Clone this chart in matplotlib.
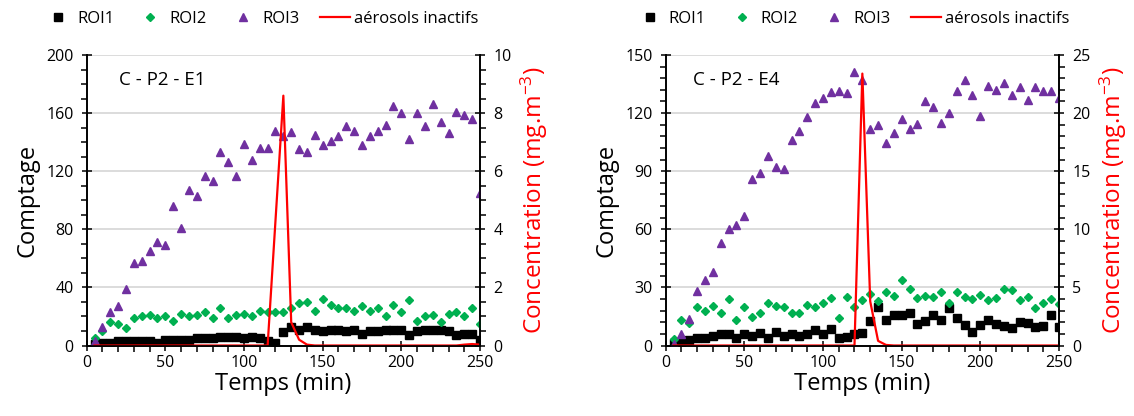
import matplotlib
matplotlib.use("Agg")
import matplotlib.pyplot as plt
from matplotlib.ticker import MultipleLocator

plt.rcParams['font.family'] = ['Open Sans', 'DejaVu Sans']
plt.rcParams['mathtext.default'] = 'regular'

# Time axis (min), one sample every 5 min
temps = list(range(5, 251, 5))

# Panel 1 : C - P2 - E1
roi1_e1 = [1, 2, 2, 3, 3, 3, 3, 3, 2, 4, 4, 4, 4, 5, 5, 5, 6, 6, 6, 5, 6, 5, 3,
           2, 9, 13, 11, 13, 11, 10, 11, 11, 10, 11, 8, 10, 10, 11, 11, 11, 7, 10,
           11, 11, 11, 10, 7, 8, 8, 4]
roi2_e1 = [5, 10, 16, 15, 12, 19, 20, 21, 19, 20, 17, 22, 20, 21, 23, 19, 26, 19,
           21, 22, 20, 24, 23, 23, 23, 26, 29, 30, 24, 32, 28, 26, 26, 24, 27, 24,
           26, 20, 28, 23, 31, 17, 20, 21, 16, 22, 23, 20, 26, 15]
roi3_e1 = [3, 13, 23, 27, 39, 57, 58, 65, 71, 69, 96, 81, 107, 103, 117, 113, 133,
           126, 117, 139, 128, 136, 136, 148, 144, 147, 135, 133, 145, 138, 141, 144,
           151, 148, 138, 144, 148, 152, 165, 160, 142, 160, 151, 166, 154, 146, 161,
           159, 156, 105]
conc_e1 = [0] * 22 + [0, 4.3, 8.6, 0.8, 0.2, 0.03] + [0] * 19 + [0.03, 0.05, 0.03]

# Panel 2 : C - P2 - E4
roi1_e4 = [1.3, 2, 3, 4, 4, 5, 6, 6, 4, 6, 5, 6.5, 4, 7, 5, 6, 5, 6, 8, 6, 8.6, 4,
           4.6, 5.8, 6.3, 12.6, 20, 13, 15.6, 15.7, 17, 11, 12.6, 15.7, 13, 19.5, 14,
           10.6, 6.8, 10.6, 13, 11, 10, 9, 12, 11.5, 9.7, 10, 15.7, 9.4]
roi2_e4 = [3.4, 13, 11.5, 19.7, 18, 20.6, 17, 24.2, 13, 20, 14.6, 17, 21.8, 20.6,
           19.7, 17, 16.6, 21, 20, 21.8, 24.4, 14, 25.2, 19.7, 23.5, 26.4, 23, 27.8,
           25.7, 33.8, 29, 24.4, 25.7, 25.2, 27.5, 21.8, 27.5, 25, 24, 26, 23.5, 24.4,
           29.3, 28.7, 23.5, 25, 19.2, 21.8, 24, 21.4]
roi3_e4 = [1, 6, 13.5, 28, 34, 38, 53, 60, 62, 67, 86, 89, 98, 92, 91, 106, 111,
           118, 125, 128, 131, 131.6, 130.5, 141, 137, 111.6, 114, 104.7, 109.6, 117,
           112, 114.4, 126.4, 123.3, 114.7, 120, 131.6, 137, 129.3, 118.5, 134, 132,
           135.4, 129.3, 133.6, 126.8, 133.3, 131.4, 131.6, 127.6]
conc_e4 = [0] * 23 + [0, 23.4, 3.8, 0.4, 0.05] + [0] * 22

panels = [
    ("C - P2 - E1", roi1_e1, roi2_e1, roi3_e1, conc_e1, 200, 40, 10, 10, 2, 0.5, 0.083, 0.443),
    ("C - P2 - E4", roi1_e4, roi2_e4, roi3_e4, conc_e4, 150, 30, 6, 25, 5, 1, 0.069, 0.474),
]
x_lefts = [86.7 / 1134, 665.7 / 1134]

fig = plt.figure(figsize=(11.34, 4.16), dpi=100)

for (name, r1, r2, r3, conc, ymax, ymaj, ymin_, cmax, cmaj, cmin, tx, lx), xl in zip(panels, x_lefts):
    ax = fig.add_axes([xl, 70.5 / 416, 393.3 / 1134, 290.5 / 416])
    ax2 = ax.twinx()

    ax.grid(axis='y', color='#d9d9d9', linewidth=1.3, zorder=0)
    ax.set_axisbelow(True)
    h1, = ax.plot(temps, r1, 's', color='black', markersize=6.3, label='ROI1', zorder=3)
    h2, = ax.plot(temps, r2, 'D', color='#00b050', markersize=4, label='ROI2', zorder=3)
    h3, = ax.plot(temps, r3, '^', color='#7030a0', markersize=5.6, label='ROI3', zorder=3)
    h4, = ax2.plot(temps, conc, '-', color='red', linewidth=1.6, label='aérosols inactifs')

    ax.set_xlim(0, 250)
    ax.set_ylim(0, ymax)
    ax2.set_ylim(0, cmax)
    ax.xaxis.set_major_locator(MultipleLocator(50))
    ax.xaxis.set_minor_locator(MultipleLocator(10))
    ax.yaxis.set_major_locator(MultipleLocator(ymaj))
    ax.yaxis.set_minor_locator(MultipleLocator(ymin_))
    ax2.yaxis.set_major_locator(MultipleLocator(cmaj))
    ax2.yaxis.set_minor_locator(MultipleLocator(cmin))

    for a in (ax, ax2):
        a.spines['top'].set_visible(False)
        for s in a.spines.values():
            s.set_linewidth(1.2)
        a.tick_params(which='major', direction='inout', length=7, width=1.1, labelsize=11.5, pad=3)
        a.tick_params(which='minor', direction='out', length=4, width=1.1)
    ax.tick_params(axis='y', which='major', pad=6)
    ax2.tick_params(axis='y', which='major', pad=6)

    ax.set_xlabel('Temps (min)', fontsize=17, labelpad=1)
    ax.set_ylabel('Comptage', fontsize=17, labelpad=5)
    ax2.set_ylabel('Concentration (mg.m$^{-3}$)', fontsize=17.5, color='red', labelpad=5)

    ax.text(tx, 0.914, name, transform=ax.transAxes, fontsize=13.5, va='center', ha='left')

    ax2.legend(handles=[h1, h2, h3, h4], loc='center', bbox_to_anchor=(lx, 1.125),
               ncol=4, frameon=False, fontsize=12, handlelength=1.8, handletextpad=0.25,
               columnspacing=1.25, borderaxespad=0)

plt.savefig("out.png", dpi=100)
